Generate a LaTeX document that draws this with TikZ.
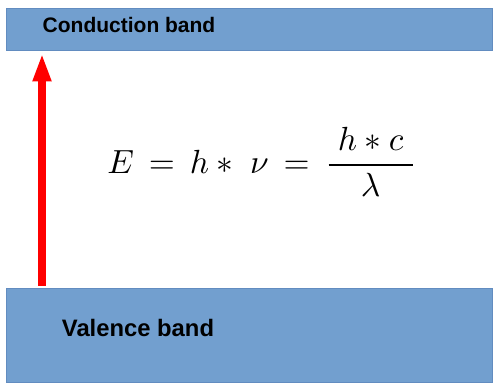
\documentclass[tikz,border=0pt]{standalone}
\usepackage{fontspec}
\usepackage{amsmath}
\usepackage{graphicx}
\usepackage{xcolor}
\usetikzlibrary{arrows.meta}
\newfontfamily\labelfont{Liberation Sans}
\definecolor{bandblue}{RGB}{114,159,207}
\definecolor{bandedge}{RGB}{98,140,192}

\begin{document}
\begin{tikzpicture}[
  x=1pt,y=1pt,
  band/.style={rectangle,draw=bandedge,line width=0.6pt,fill=bandblue,inner sep=0pt},
  bandlabel/.style={font=\labelfont\bfseries,text=black,inner sep=0pt},
  photon/.style={-{Triangle[width=17pt,length=28pt]},red,line width=8pt},
  eqn/.style={inner sep=0pt}
]

\useasboundingbox (0,0) rectangle (494,383);

%%%%%%%%%%%%%%%%%%%%%%%%%%%%%%%%%%%%%%%%%%%%%%%%%%%%
% Bands
%%%%%%%%%%%%%%%%%%%%%%%%%%%%%%%%%%%%%%%%%%%%%%%%%%%%
\node[band,minimum width=486pt,minimum height=42pt] (cb) at (249,354) {};
\node[band,minimum width=486pt,minimum height=94pt] (vb) at (249,48) {};

\node[bandlabel,font=\labelfont\bfseries\fontsize{21}{25}\selectfont] (cblabel) at (129,358) {Conduction band};
\node[bandlabel,font=\labelfont\bfseries\fontsize{23.8}{28}\selectfont] (vblabel) at (138,55) {Valence band};

%%%%%%%%%%%%%%%%%%%%%%%%%%%%%%%%%%%%%%%%%%%%%%%%%%%%
% Excitation arrow
%%%%%%%%%%%%%%%%%%%%%%%%%%%%%%%%%%%%%%%%%%%%%%%%%%%%
\coordinate (xa) at (42,0);
\draw[photon,shorten <=2pt,shorten >=3pt] (vb.north -| xa) -- (cb.south -| xa);

%%%%%%%%%%%%%%%%%%%%%%%%%%%%%%%%%%%%%%%%%%%%%%%%%%%%
% Photon energy
%%%%%%%%%%%%%%%%%%%%%%%%%%%%%%%%%%%%%%%%%%%%%%%%%%%%
\node[eqn] (energy) at (262,221) {\resizebox{309pt}{!}{$E \,=\, h \ast\; \nu \,=\, \dfrac{\;h \ast c\;}{\lambda}$}};

\end{tikzpicture}
\end{document}
